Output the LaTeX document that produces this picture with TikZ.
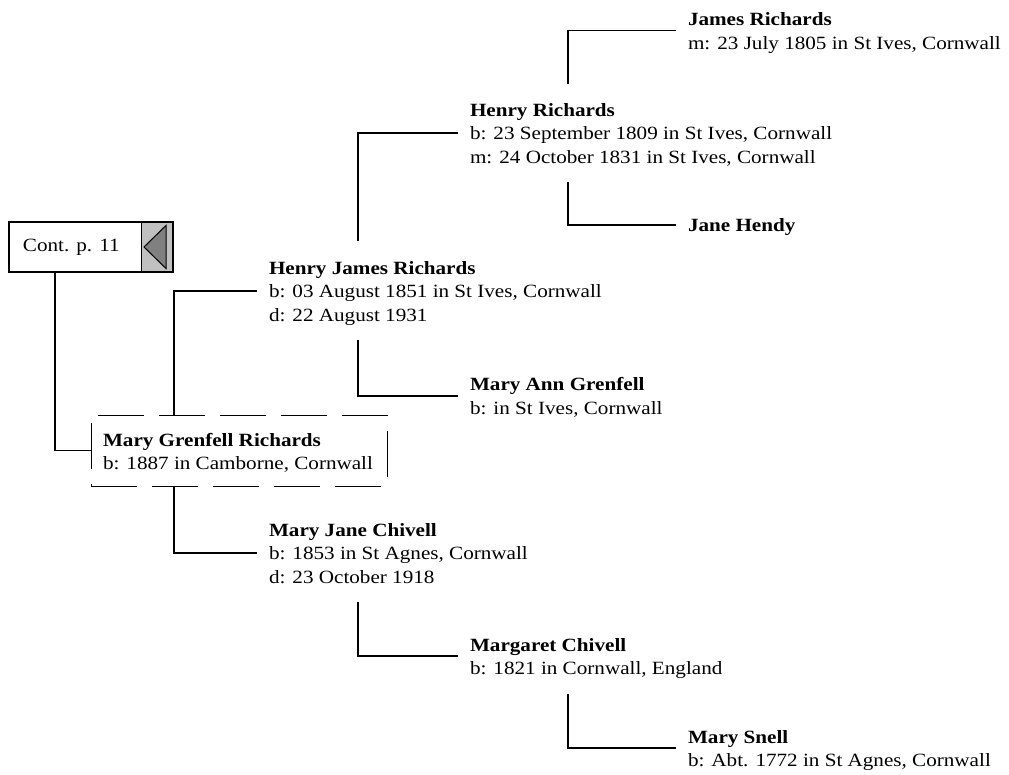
\documentclass[tikz,border=0pt]{standalone}
\usepackage{fontspec}
\setmainfont{Liberation Serif}[FakeStretch=1.13]
\definecolor{tgray}{HTML}{C0C0C0}
\definecolor{tdark}{HTML}{808080}
\newcommand\pone[1]{\hbox{\bfseries #1}}
\newcommand\ptwo[2]{\vtop{\hbox{\bfseries #1}\hbox{#2}}}
\newcommand\pthree[3]{\vtop{\hbox{\bfseries #1}\hbox{#2}\hbox{#3}}}
\tikzset{
 conn/.style={line width=1.7pt},
 txt/.style={font=\fontsize{18.7}{23.3}\selectfont},
 person/.style={txt, inner xsep=12pt, inner ysep=0pt, outer xsep=0pt, outer ysep=17pt, text height=16pt, anchor=base west},
 one/.style={person, text depth=2pt},
 two/.style={person, text depth=25.3pt},
 three/.style={person, text depth=48.6pt},
 mgrbox/.style={txt, draw, line width=1pt, dash pattern=on 46pt off 15pt, inner xsep=12pt, inner ysep=0pt, outer sep=0pt, text height=31pt, text depth=40pt, anchor=base west},
 contbox/.style={txt, draw, line width=2pt, anchor=west, inner xsep=14pt, inner ysep=0pt, outer sep=0pt, minimum width=164pt, minimum height=50pt,
   path picture={
     \fill[tgray] ([xshift=-32pt]path picture bounding box.north east) rectangle (path picture bounding box.south east);
     \draw[line width=1pt] ([xshift=-32pt]path picture bounding box.north east) -- ([xshift=-32pt]path picture bounding box.south east);
     \draw[line width=1pt, fill=tdark] ([xshift=-29pt]path picture bounding box.east) -- ([xshift=-7pt,yshift=21.5pt]path picture bounding box.east) -- ([xshift=-7pt,yshift=-21.5pt]path picture bounding box.east) -- cycle;
   }},
}
\begin{document}
\begin{tikzpicture}[x=1pt,y=-1pt]
\useasboundingbox (0,0) rectangle (1009,775);
\coordinate (k0) at (55,0);
\coordinate (k1) at (174,0);
\coordinate (k2) at (358,0);
\coordinate (k3) at (568,0);

\node[contbox] (cont) at (9,247) {\hbox to 136pt{Cont. p. 11\hfil}};

\node[two] (jr) at (676,26) {\ptwo{James Richards}{m: 23 July 1805 in St Ives, Cornwall}};
\node[three] (hr) at (458,116.7) {\pthree{Henry Richards}{b: 23 September 1809 in St Ives, Cornwall}{m: 24 October 1831 in St Ives, Cornwall}};
\node[one] (jh) at (676,232) {\pone{Jane Hendy}};
\node[three] (hjr) at (257,274.5) {\pthree{Henry James Richards}{b: 03 August 1851 in St Ives, Cornwall}{d: 22 August 1931}};
\node[two] (mag) at (458,391) {\ptwo{Mary Ann Grenfell}{b: in St Ives, Cornwall}};
\node[mgrbox] (mgr) at (91,446) {\vtop{\hbox to 272pt{\bfseries Mary Grenfell Richards\hfil}\hbox to 272pt{b: 1887 in Camborne, Cornwall\hfil}}};
\node[three] (mjc) at (257,536.5) {\pthree{Mary Jane Chivell}{b: 1853 in St Agnes, Cornwall}{d: 23 October 1918}};
\node[two] (mc) at (458,651.3) {\ptwo{Margaret Chivell}{b: 1821 in Cornwall, England}};
\node[two] (ms) at (676,743) {\ptwo{Mary Snell}{b: Abt. 1772 in St Agnes, Cornwall}};

\draw[conn] (cont.south -| k0) |- (mgr.west);
\draw[conn] (mgr.north -| k1) |- (hjr.west);
\draw[conn] (mgr.south -| k1) |- (mjc.west);
\draw[conn] (hjr.north -| k2) |- (hr.west);
\draw[conn] (hjr.south -| k2) |- (mag.west);
\draw[conn] (hr.north -| k3) |- (jr.west);
\draw[conn] (hr.south -| k3) |- (jh.west);
\draw[conn] (mjc.south -| k2) |- (mc.west);
\draw[conn] (mc.south -| k3) |- (ms.west);
\end{tikzpicture}
\end{document}
